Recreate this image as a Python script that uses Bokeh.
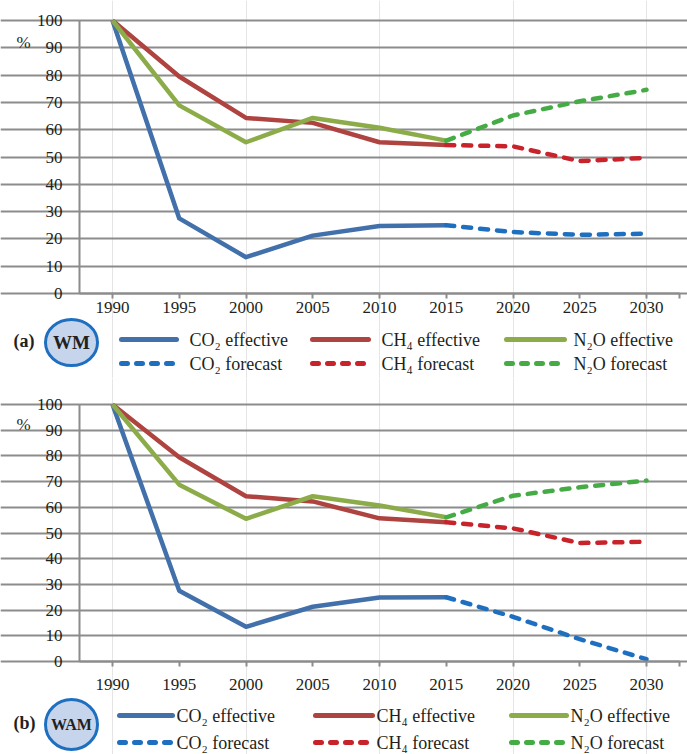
from bokeh.plotting import figure
from bokeh.layouts import column
from bokeh.models import Range1d, FixedTicker, LinearAxis, Grid
from bokeh.core.properties import value
from bokeh.embed import file_html
from bokeh.resources import INLINE

# ---- data -------------------------------------------------------------
years = [1990, 1995, 2000, 2005, 2010, 2015, 2020, 2025, 2030]
year_labels = ["1990", "1995", "2000", "2005", "2010", "2015", "2020", "2025", "2030"]
hist_years = [1990, 1995, 2000, 2005, 2010, 2015]
proj_years = [2015, 2020, 2025, 2030]
y_ticks = [0, 10, 20, 30, 40, 50, 60, 70, 80, 90, 100]
y_labels = ["0", "10", "20", "30", "40", "50", "60", "70", "80", "90", "100"]

# (a) WM scenario, % of 1990
wm_co2_eff = [100, 27.5, 13.3, 21.2, 24.7, 25.0]
wm_ch4_eff = [100, 79.5, 64.3, 62.5, 55.4, 54.4]
wm_n2o_eff = [100, 68.9, 55.4, 64.3, 60.7, 56.0]
wm_co2_fc = [25.0, 22.5, 21.5, 21.9]
wm_ch4_fc = [54.4, 53.9, 48.5, 49.7]
wm_n2o_fc = [56.0, 65.2, 70.4, 74.6]

# (b) WAM scenario, % of 1990
wam_co2_eff = [100, 27.5, 13.5, 21.3, 24.9, 25.0]
wam_ch4_eff = [100, 79.5, 64.3, 62.3, 55.7, 54.2]
wam_n2o_eff = [100, 68.8, 55.5, 64.3, 60.7, 56.1]
wam_co2_fc = [25.0, 17.4, 8.7, 0.9]
wam_ch4_fc = [54.2, 51.8, 46.1, 46.6]
wam_n2o_fc = [56.1, 64.5, 67.8, 70.4]

effective_labels = ["CO\u2082 effective", "CH\u2084 effective", "N\u2082O effective"]
forecast_labels = ["CO\u2082 forecast", "CH\u2084 forecast", "N\u2082O forecast"]

# ---- styling ----------------------------------------------------------
FONT = "Liberation Serif"
TEXT = "#231f20"
GRID = "#8c8c8c"
EFF_COLORS = ["#4270aa", "#ae4340", "#8cac4a"]
FC_COLORS = ["#1f6fc0", "#c8222b", "#45ac45"]
LW = 4.5
DASH = "8 9"

X_LO, X_HI = 1987.5, 2032.5          # category band edges of the x axis
W = 687
PX_1990, PX_2030 = 112, 646           # canvas columns of the first / last year


def make_panel(eff, fc, height, y100_px, y0_px, xlabel_gap,
               tag, badge, badge_h, badge_cy, row_y, cols, pct_y):
    # The frame fills the whole canvas; axes sit at fixed locations so the
    # key underneath can share the same figure.
    sx = (PX_2030 - PX_1990) / (years[-1] - years[0])
    x0 = years[0] - PX_1990 / sx
    sy = (y0_px - y100_px) / 100.0
    ytop = 100 + y100_px / sy

    def cx(px):
        return x0 + px / sx

    def cy(py):
        return ytop - py / sy

    p = figure(width=W, height=height,
               x_range=Range1d(x0, x0 + W / sx),
               y_range=Range1d(ytop - height / sy, ytop),
               x_axis_location=None, y_axis_location=None,
               min_border=0, output_backend="svg", toolbar_location=None)
    p.outline_line_color = None
    p.background_fill_color = "white"
    p.border_fill_color = "white"

    p.add_layout(Grid(dimension=1, ticker=FixedTicker(ticks=y_ticks),
                      bounds=(X_LO, X_HI), grid_line_color=GRID,
                      grid_line_width=2))

    yaxis = LinearAxis(fixed_location=X_LO, bounds=(0, 100),
                       ticker=FixedTicker(ticks=y_ticks),
                       major_label_overrides={t: "" for t in y_ticks},
                       major_tick_out=0, major_tick_in=0,
                       minor_tick_out=0, minor_tick_in=0)
    xaxis = LinearAxis(fixed_location=0, bounds=(X_LO, X_HI),
                       ticker=FixedTicker(ticks=years + [X_HI]),
                       major_label_overrides={t: "" for t in years + [X_HI]},
                       major_tick_out=5, major_tick_in=0,
                       minor_tick_out=0, minor_tick_in=0)
    for ax in (xaxis, yaxis):
        ax.axis_line_color = GRID
        ax.axis_line_width = 2
        ax.major_tick_line_color = GRID
        ax.major_tick_line_width = 2
    p.add_layout(yaxis, "left")
    p.add_layout(xaxis, "below")

    # tick labels, set in the serif face used throughout
    p.text(x=[cx(62)] * len(y_ticks), y=y_ticks, text=y_labels,
           text_font=value(FONT), text_font_size="17px", text_color=TEXT,
           text_align="right", text_baseline="middle")
    p.text(x=years, y=[cy(y0_px + xlabel_gap)] * len(years), text=year_labels,
           text_font=value(FONT), text_font_size="17px", text_color=TEXT,
           text_align="center", text_baseline="top")

    # series
    for vals, col in zip(eff, EFF_COLORS):
        p.line(hist_years, vals, line_color=col, line_width=LW, line_join="round")
    for vals, col in zip(fc, FC_COLORS):
        p.line(proj_years, vals, line_color=col, line_width=LW,
               line_dash=DASH, line_cap="round", line_join="round")

    # unit label
    p.text(x=[cx(23)], y=[cy(pct_y)], text=["%"], text_font=value(FONT),
           text_font_size="17px", text_color=TEXT,
           text_align="center", text_baseline="middle")

    # panel tag and scenario badge
    p.text(x=[cx(13)], y=[cy(badge_cy - 2)], text=[tag], text_font=value(FONT),
           text_font_size="18px", text_font_style="bold", text_color=TEXT,
           text_align="left", text_baseline="middle")
    p.ellipse(x=[cx(71)], y=[cy(badge_cy)], width=52 / sx, height=badge_h / sy,
              fill_color="#c6d5ec", line_color="#1f6fc0", line_width=3)
    p.text(x=[cx(71)], y=[cy(badge_cy)], text=[badge], text_font=value(FONT),
           text_font_size="19px" if len(badge) < 3 else "16px",
           text_font_style="bold", text_color=TEXT,
           text_align="center", text_baseline="middle")

    # key
    for i, (xa, xb, xt) in enumerate(cols):
        for ry, col, dash in ((row_y[0], EFF_COLORS[i], "solid"),
                              (row_y[1], FC_COLORS[i], "6 9")):
            p.line([cx(xa), cx(xb)], [cy(ry), cy(ry)], line_color=col,
                   line_width=5, line_cap="round", line_dash=dash)
        p.text(x=[cx(xt), cx(xt)], y=[cy(row_y[0]), cy(row_y[1])],
               text=[effective_labels[i], forecast_labels[i]],
               text_font=value(FONT), text_font_size="18px", text_color=TEXT,
               text_align="left", text_baseline="middle")
    return p


panel_a = make_panel([wm_co2_eff, wm_ch4_eff, wm_n2o_eff],
                     [wm_co2_fc, wm_ch4_fc, wm_n2o_fc],
                     height=378, y100_px=20, y0_px=293, xlabel_gap=8,
                     tag="(a)", badge="WM", badge_h=46, badge_cy=342,
                     row_y=[339, 363],
                     cols=[(121, 176, 189), (312, 368, 381), (506, 564, 573)],
                     pct_y=42)

panel_b = make_panel([wam_co2_eff, wam_ch4_eff, wam_n2o_eff],
                     [wam_co2_fc, wam_ch4_fc, wam_n2o_fc],
                     height=376, y100_px=26, y0_px=283, xlabel_gap=17,
                     tag="(b)", badge="WAM", badge_h=50, badge_cy=346,
                     row_y=[337, 364],
                     cols=[(119, 172, 176), (315, 372, 376), (511, 566, 570)],
                     pct_y=46)

layout = column(panel_a, panel_b, spacing=0)

with open("out.html", "w") as f:
    f.write(file_html(layout, INLINE))
